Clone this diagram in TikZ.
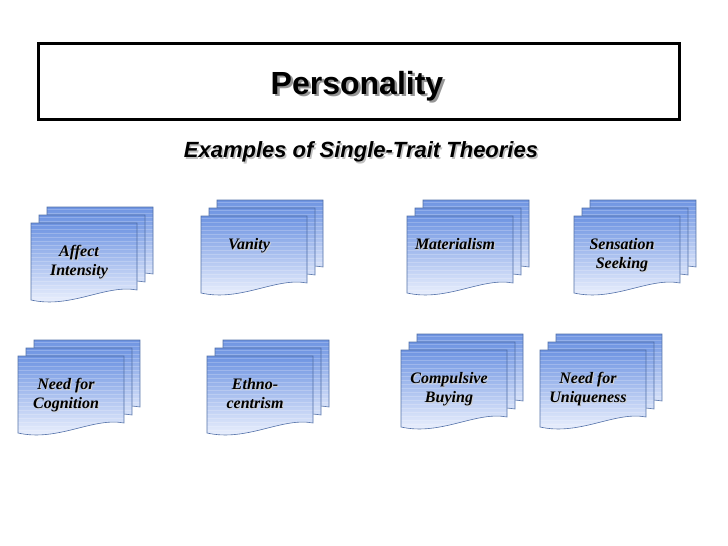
\documentclass[tikz,border=0pt]{standalone}
\usepackage{fontspec}
\setmainfont{Liberation Serif}
\newfontfamily\headfont{Liberation Sans}
\usetikzlibrary{positioning, calc}
\definecolor{docTop}{RGB}{110,148,226}
\definecolor{docBot}{RGB}{244,247,255}
\definecolor{docEdge}{RGB}{82,112,168}
\definecolor{shadowc}{RGB}{150,150,150}
\tikzset{
  headtext/.style={font=\headfont\bfseries\fontsize{32}{36}\selectfont, inner sep=0pt},
  subtext/.style={font=\headfont\bfseries\itshape\fontsize{22}{26}\selectfont, inner sep=0pt},
  traittext/.style={font=\bfseries\itshape\fontsize{16}{19}\selectfont, align=center,
    anchor=north, inner sep=0pt},
}
% one sheet, top-left corner at (#1,#2)
\newcommand{\docsheet}[2]{%
  \begin{scope}[shift={(#1,#2)}]
    \begin{scope}
      \clip (0,0) -- (106,0) -- (106,67) .. controls (75,61) and (40,86) .. (0,77) -- cycle;
      \shade[top color=docTop, bottom color=docBot] (0,0) rectangle (106,86);
      \foreach \ly in {2,6,...,86}
        \draw[white, opacity=0.22, line width=0.5pt] (0,\ly) -- (106,\ly);
    \end{scope}
    \draw[docEdge, line width=0.6pt] (0,0) -- (106,0) -- (106,67)
      .. controls (75,61) and (40,86) .. (0,77) -- cycle;
  \end{scope}}
% three stacked sheets with a label; front sheet top-left at (#2,#3)
\newcommand{\traitdoc}[4]{%
  \docsheet{#2+16}{#3-16}
  \docsheet{#2+8}{#3-8}
  \docsheet{#2}{#3}
  \node[traittext, text=shadowc!45] at (#2+49,#3+23) {#4};
  \node[traittext] (#1) at (#2+48,#3+22) {#4};}

\begin{document}
\begin{tikzpicture}[x=1pt, y=-1pt]
  \useasboundingbox (0,0) rectangle (728,546);
  % title
  \node[draw, line width=3pt, minimum width=641pt, minimum height=76pt] (titlebox) at (359,81.5) {};
  \node[headtext, text=shadowc] (titleshadow) at (359.5,88.5) {Personality};
  \node[headtext] (title) at (357,86) {Personality};
  \node[subtext, text=shadowc!60] (subshadow) at (362.5,153.5) {Examples of Single-Trait Theories};
  \node[subtext] (subtitle) at (361,152) {Examples of Single-Trait Theories};
  % first row
  \traitdoc{affect}{31}{223}{Affect\\Intensity}
  \traitdoc{vanity}{201}{216}{Vanity}
  \traitdoc{material}{407}{216}{Materialism}
  \traitdoc{sensation}{574}{216}{Sensation\\Seeking}
  % second row
  \traitdoc{cognition}{18}{356}{Need for\\Cognition}
  \traitdoc{ethno}{207}{356}{Ethno-\\centrism}
  \traitdoc{compulsive}{401}{350}{Compulsive\\Buying}
  \traitdoc{unique}{540}{350}{Need for\\Uniqueness}
\end{tikzpicture}
\end{document}
